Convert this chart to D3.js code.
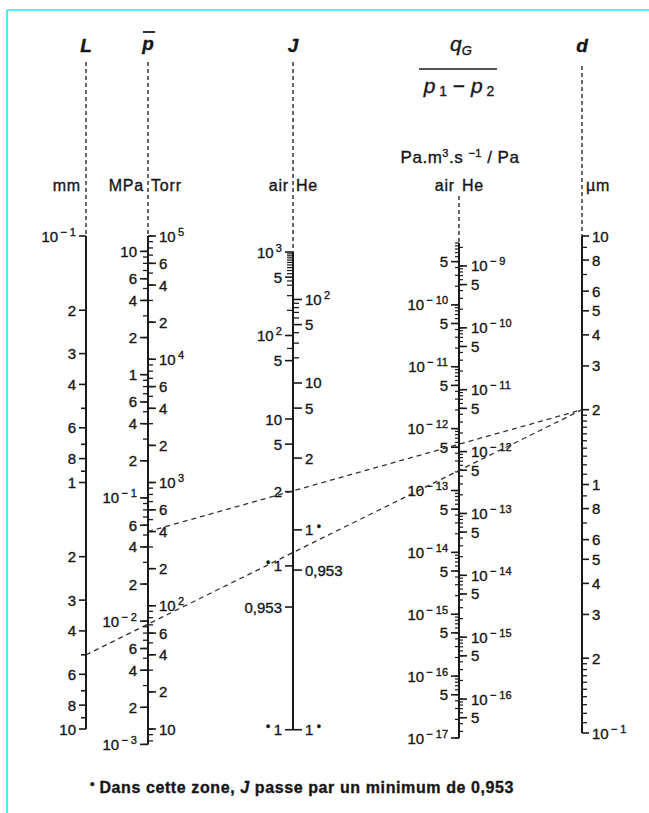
<!DOCTYPE html>
<html>
<head>
<meta charset="utf-8">
<script src="https://cdn.jsdelivr.net/npm/d3@7"></script>
<style>
body { margin: 0; background: #fff; }
svg text { font-family: "Liberation Sans", Arial, sans-serif; fill: #161616; stroke: #161616; stroke-width: 0.35px; }
</style>
</head>
<body>
<div id="chart"></div>
<script>
// ---- values ----
// L, capillary length (mm)
var lLabels = [0.1, 0.2, 0.3, 0.4, 0.6, 0.8, 1, 2, 3, 4, 6, 8, 10];
var lMinor = [0.5, 0.7, 0.9, 5, 7, 9];

// mean pressure p (Torr on the right, MPa on the left)
var torrLabels = [1e5, 6e4, 4e4, 2e4, 1e4, 6e3, 4e3, 2e3, 1e3, 600, 400, 200, 100, 60, 40, 20, 10];
var mpaLabels = [10, 6, 4, 2, 1, 0.6, 0.4, 0.2, 0.1, 0.06, 0.04, 0.02, 0.01, 0.006, 0.004, 0.002, 0.001];
var torrPerMPa = 7500.6;

// J scale: u = air-equivalent position variable, labels = J values
var jAirLabels = [
    { u: 1000, t: '10', e: '3' }, { u: 500, t: '5' }, { u: 100, t: '10', e: '2' },
    { u: 50, t: '5' }, { u: 10, t: '10' }, { u: 5, t: '5' }, { u: 1.35, t: '2' },
    { u: 0.174, t: '1', star: true }, { u: 0.056, t: '0,953' }, { u: 0.0019, t: '1', star: true }
];
var jAirMinor = [950, 900, 850, 800, 750, 700, 650, 600, 550, 450, 400, 300, 200, 70];
var jHeLabels = [
    { u: 270, t: '10', e: '2' }, { u: 135, t: '5' }, { u: 27, t: '10' }, { u: 13.5, t: '5' },
    { u: 3.4, t: '2' }, { u: 0.47, t: '1', star: true }, { u: 0.155, t: '0,953' },
    { u: 0.0019, t: '1', star: true }
];
var jHeMinor = [243, 216, 189, 162, 108, 81, 54];

// q_G / (p1 - p2), Pa.m3.s-1/Pa ; He reads ~2.35x air at the same height
var qAirLabels = [5e-10, 1e-10, 5e-11, 1e-11, 5e-12, 1e-12, 5e-13, 1e-13, 5e-14, 1e-14,
    5e-15, 1e-15, 5e-16, 1e-16, 5e-17, 1e-17];
var qHeLabels = [1e-9, 5e-10, 1e-10, 5e-11, 1e-11, 5e-12, 1e-12, 5e-13, 1e-13, 5e-14, 1e-14,
    5e-15, 1e-15, 5e-16, 1e-16, 5e-17];
var heRatio = 2.35;

// d, capillary diameter (um)
var dLabels = [10, 8, 6, 5, 4, 3, 2, 1, 0.8, 0.6, 0.5, 0.4, 0.3, 0.2, 0.1];
var dMinor = [9, 7, 1.9, 1.8, 1.7, 1.6, 1.5, 1.4, 1.3, 1.2, 1.1, 0.9, 0.7,
    0.19, 0.18, 0.17, 0.16, 0.15, 0.14, 0.13, 0.12, 0.11];

// worked example: L = 5 mm, p = 400 Torr, d = 2 um
var exampleL = 5, exampleTorr = 400, exampleD = 2;

//Dimension
var width = 649, height = 813;
var xL = 86, xP = 148, xJ = 293, xQ = 459, xD = 582;

var svg = d3.select('#chart')
    .append('svg')
    .attr('width', width)
    .attr('height', height);

// scales
var lScale = d3.scaleLog().domain([0.1, 10]).range([236, 729]);
var torrScale = d3.scaleLog().domain([1e5, 10]).range([236, 729]);
var mpaScale = d3.scaleLog().domain([1e5 / torrPerMPa, 10 / torrPerMPa]).range([236, 729]);
var jScale = d3.scaleLog().domain([1000, 10]).range([252, 419]);
var qAir = d3.scaleLog().domain([1e-9, 1e-17]).range([243, 738]);
var qHe = d3.scaleLog().domain([1e-9 * heRatio, 1e-17 * heRatio]).range([243, 738]);
var dScale = d3.scaleLog().domain([10, 0.1]).range([236, 733]);

// all m x 10^e marks between lo and hi
function decades(lo, hi) {
    var out = [];
    for (var e = Math.floor(Math.log10(lo)) - 1; e <= Math.ceil(Math.log10(hi)); e++) {
        for (var m = 1; m <= 9; m++) {
            var v = +(m * Math.pow(10, e)).toPrecision(6);
            if (v >= lo * 0.9999 && v <= hi * 1.0001) out.push(v);
        }
    }
    return out;
}

// mantissa only, powers of ten as 10^e (1 and 10 kept plain)
function fmt(v) {
    var e = Math.floor(Math.log10(v) + 1e-9);
    var m = Math.round(v / Math.pow(10, e));
    if (m === 1) {
        if (e === 0) return { t: '1' };
        if (e === 1) return { t: '10' };
        return { t: '10', e: String(e) };
    }
    return { t: String(m) };
}

// cyan frame
svg.append('line').attr('x1', 7).attr('y1', 10).attr('x2', width).attr('y2', 10)
    .attr('stroke', '#1ee8f2').attr('stroke-width', 1.6);
svg.append('line').attr('x1', 7).attr('y1', 10).attr('x2', 7).attr('y2', height)
    .attr('stroke', '#1ee8f2').attr('stroke-width', 1.6);

var g = svg.append('g');

function axisLine(x, y0, y1) {
    g.append('line').attr('x1', x).attr('x2', x).attr('y1', y0).attr('y2', y1)
        .attr('stroke', '#1a1a1a').attr('stroke-width', 2);
}
function dashLine(x, y0, y1) {
    g.append('line').attr('x1', x).attr('x2', x).attr('y1', y0).attr('y2', y1)
        .attr('stroke', '#2a2a2a').attr('stroke-width', 1.4).attr('stroke-dasharray', '4,3');
}
function ticks(x, scale, values, dir, len, w) {
    g.append('g').selectAll('line')
        .data(values)
        .enter().append('line')
        .attr('x1', x).attr('x2', x + dir * len)
        .attr('y1', function(d) { return scale(d); })
        .attr('y2', function(d) { return scale(d); })
        .attr('stroke', '#1a1a1a').attr('stroke-width', w || 1.6);
}
// items: {y, t, e, star}
function labels(x, items, anchor) {
    var txt = g.append('g').selectAll('text')
        .data(items)
        .enter().append('text')
        .attr('x', x)
        .attr('y', function(d) { return d.y + 5.5; })
        .attr('font-size', 15)
        .attr('text-anchor', anchor);
    txt.each(function(d) {
        var s = d3.select(this);
        if (d.star && anchor === 'end') {
            s.append('tspan').attr('font-size', 12).attr('dy', -4).text('\u2022 ');
            s.append('tspan').attr('dy', 4).text(d.t);
        } else {
            s.append('tspan').text(d.t);
        }
        if (d.e) {
            s.append('tspan').attr('font-size', 11).attr('dy', -6)
                .text('\u2009' + d.e.replace('-', '\u2212 '));
        }
        if (d.star && anchor === 'start') {
            s.append('tspan').attr('font-size', 12).attr('dy', -4).text(' \u2022');
        }
    });
}
function fromValues(scale, values) {
    return values.map(function(v) {
        var f = fmt(v);
        return { y: scale(v), t: f.t, e: f.e };
    });
}

// ---- L axis ----
dashLine(xL, 62, 236);
axisLine(xL, lScale(0.1), lScale(10));
ticks(xL, lScale, lLabels, -1, 7);
ticks(xL, lScale, lMinor, -1, 5);
labels(xL - 10, fromValues(lScale, lLabels), 'end');

// ---- p axis ----
dashLine(xP, 62, 236);
axisLine(xP, torrScale(1e5), mpaScale(0.001));
ticks(xP, torrScale, decades(8, 1e5), 1, 5, 1.3);
ticks(xP, torrScale, torrLabels, 1, 8);
ticks(xP, mpaScale, decades(0.001, 10), -1, 5, 1.3);
ticks(xP, mpaScale, mpaLabels, -1, 8);
labels(xP + 11, fromValues(torrScale, torrLabels), 'start');
labels(xP - 11, fromValues(mpaScale, mpaLabels), 'end');

// ---- J axis ----
dashLine(xJ, 62, 252);
axisLine(xJ, jScale(1000), jScale(0.0019));
ticks(xJ, jScale, jAirMinor, -1, 6, 1.2);
ticks(xJ, jScale, jAirLabels.map(function(d) { return d.u; }), -1, 8);
ticks(xJ, jScale, jHeMinor, 1, 6, 1.3);
ticks(xJ, jScale, jHeLabels.map(function(d) { return d.u; }), 1, 9);
labels(xJ - 11, jAirLabels.map(function(d) {
    return { y: jScale(d.u), t: d.t, e: d.e, star: d.star };
}), 'end');
labels(xJ + 12, jHeLabels.map(function(d) {
    return { y: jScale(d.u), t: d.t, e: d.e, star: d.star };
}), 'start');

// ---- qG axis ----
dashLine(xQ, 196, 243);
axisLine(xQ, qAir(1e-9), qAir(1e-17));
ticks(xQ, qAir, decades(1e-17, 1e-9), -1, 4, 1.2);
ticks(xQ, qAir, qAirLabels, -1, 8);
ticks(xQ, qHe, decades(1e-17 * heRatio, 1e-9 * heRatio), 1, 4, 1.2);
ticks(xQ, qHe, qHeLabels, 1, 8);
labels(xQ - 11, fromValues(qAir, qAirLabels), 'end');
labels(xQ + 12, fromValues(qHe, qHeLabels), 'start');

// ---- d axis ----
dashLine(xD, 66, 236);
axisLine(xD, dScale(10), dScale(0.1));
ticks(xD, dScale, dMinor, 1, 5, 1.3);
ticks(xD, dScale, dLabels, 1, 7);
labels(xD + 10, fromValues(dScale, dLabels), 'start');

// ---- worked example lines ----
var yD = dScale(exampleD);
g.append('line')
    .attr('x1', xL).attr('y1', lScale(exampleL))
    .attr('x2', xD).attr('y2', yD)
    .attr('stroke', '#333').attr('stroke-width', 1.3).attr('stroke-dasharray', '5,4');
g.append('line')
    .attr('x1', xP).attr('y1', torrScale(exampleTorr))
    .attr('x2', xD).attr('y2', yD)
    .attr('stroke', '#333').attr('stroke-width', 1.3).attr('stroke-dasharray', '5,4');

// ---- titles ----
function title(x, y, s) {
    g.append('text').attr('x', x).attr('y', y).attr('text-anchor', 'middle')
        .attr('font-size', 19).attr('font-weight', 'bold').attr('font-style', 'italic').text(s);
}
title(xL, 52, 'L');
title(xP, 50, 'p');
g.append('line').attr('x1', xP - 5).attr('x2', xP + 7).attr('y1', 32).attr('y2', 32)
    .attr('stroke', '#1a1a1a').attr('stroke-width', 1.8);
title(xJ, 52, 'J');
title(xD, 52, 'd');

var qt = g.append('text').attr('x', 461).attr('y', 51).attr('text-anchor', 'middle')
    .attr('font-size', 21).attr('font-style', 'italic');
qt.append('tspan').text('q');
qt.append('tspan').attr('font-size', 13).attr('dy', 4).text('G');
g.append('line').attr('x1', 419).attr('x2', 497).attr('y1', 69).attr('y2', 69)
    .attr('stroke', '#1a1a1a').attr('stroke-width', 1.6);
var pt = g.append('text').attr('x', 459).attr('y', 93).attr('text-anchor', 'middle')
    .attr('font-size', 21).attr('font-style', 'italic');
pt.append('tspan').text('p');
pt.append('tspan').attr('font-size', 14).attr('dy', 3).attr('font-style', 'normal').text(' 1');
pt.append('tspan').attr('dy', -3).attr('font-style', 'normal').text(' \u2212 ');
pt.append('tspan').text('p');
pt.append('tspan').attr('font-size', 14).attr('dy', 3).attr('font-style', 'normal').text(' 2');

// ---- units ----
function unit(x, y, s, anchor) {
    return g.append('text').attr('x', x).attr('y', y).attr('text-anchor', anchor)
        .attr('font-size', 16).attr('letter-spacing', 0.8).text(s);
}
unit(xL - 5, 191, 'mm', 'end');
unit(xP - 4, 191, 'MPa', 'end');
unit(xP + 3, 191, 'Torr', 'start');
unit(xJ - 4, 191, 'air', 'end');
unit(xJ + 3, 191, 'He', 'start');
unit(xQ - 4, 191, 'air', 'end');
unit(xQ + 3, 191, 'He', 'start');
unit(xD + 4, 191, '\u00b5m', 'start');
var pu = g.append('text').attr('x', 460).attr('y', 163).attr('text-anchor', 'middle')
    .attr('font-size', 17).attr('letter-spacing', 0.5);
pu.append('tspan').text('Pa.m');
pu.append('tspan').attr('font-size', 11).attr('dy', -6).text('3');
pu.append('tspan').attr('dy', 6).text('.s ');
pu.append('tspan').attr('font-size', 11).attr('dy', -6).text('\u22121');
pu.append('tspan').attr('dy', 6).text(' / Pa');

// ---- footnote ----
var fn = g.append('text').attr('x', 90).attr('y', 793).attr('font-size', 16)
    .attr('font-weight', 'bold').attr('letter-spacing', 0.6);
fn.append('tspan').attr('font-size', 13).attr('dy', -5).text('\u2022 ');
fn.append('tspan').attr('dy', 5).text('Dans cette zone, ');
fn.append('tspan').attr('font-style', 'italic').text('J');
fn.append('tspan').text(' passe par un minimum de 0,953');
</script>
</body>
</html>
